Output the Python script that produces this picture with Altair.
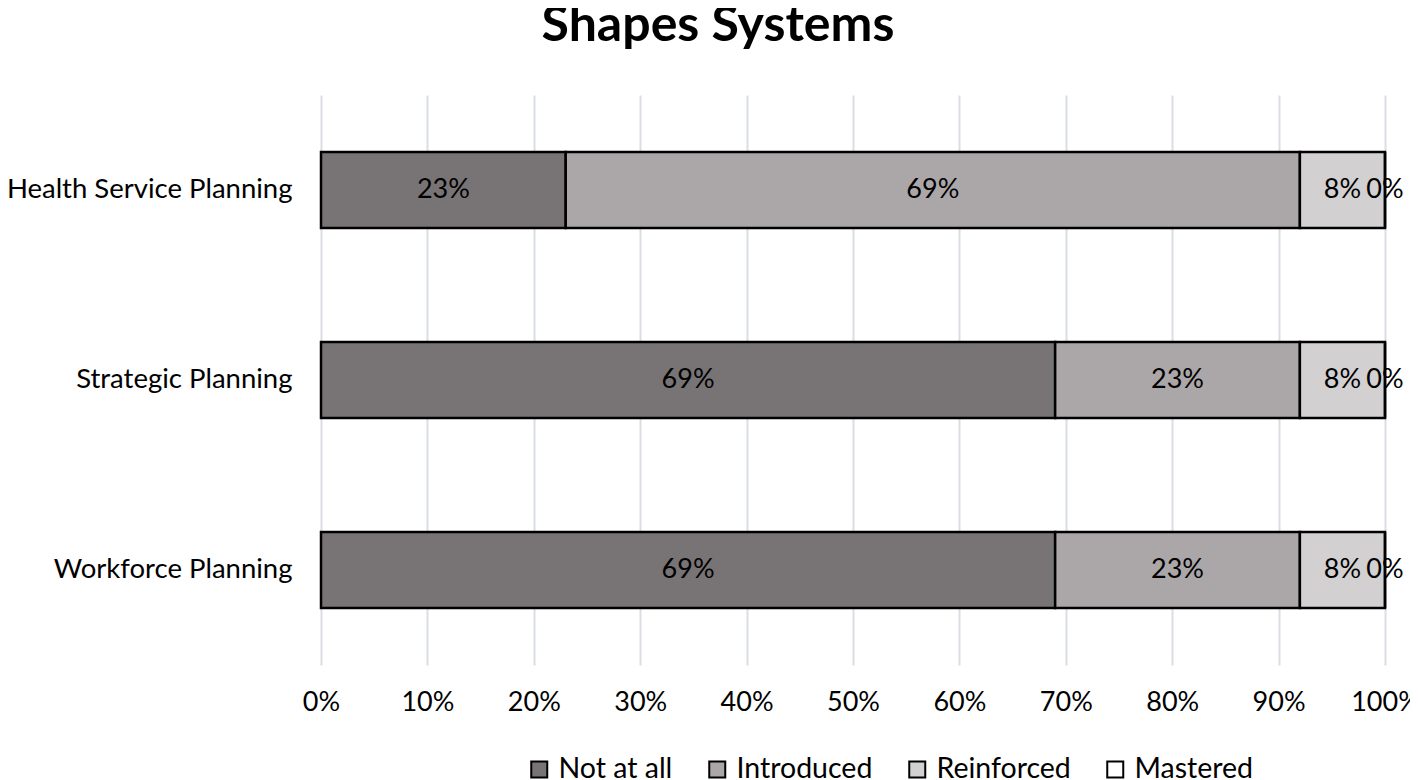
import altair as alt
import pandas as pd

categories = ["Health Service Planning", "Strategic Planning", "Workforce Planning"]
levels = ["Not at all", "Introduced", "Reinforced", "Mastered"]
not_at_all = [23, 69, 69]
introduced = [69, 23, 23]
reinforced = [8, 8, 8]
mastered = [0, 0, 0]
colors = ["#787374", "#aba7a8", "#d3d0d1", "#ffffff"]

rows = []
series = [not_at_all, introduced, reinforced, mastered]
for li, (lvl, vals) in enumerate(zip(levels, series)):
    for c, v in zip(categories, vals):
        rows.append({"category": c, "level": lvl, "order": li, "value": v / 100.0,
                     "label": f"{v}%"})
df = pd.DataFrame(rows)

FONT = "Lato"

base = alt.Chart(df).transform_stack(
    stack="value", groupby=["category"], sort=[alt.SortField("order")], as_=["x0", "x1"]
).transform_calculate(mid="(datum.x0 + datum.x1) / 2")

y_enc = alt.Y("category:N", sort=categories, title=None,
              scale=alt.Scale(paddingInner=0.6, paddingOuter=0.3),
              axis=alt.Axis(ticks=False, domain=False, labelFontSize=27.5, labelFont=FONT,
                            labelColor="#000000", labelPadding=29, labelLimit=400, grid=False))

bars = base.mark_bar(stroke="#000000", strokeWidth=2.5).encode(
    x=alt.X("x0:Q", scale=alt.Scale(domain=[0, 1]), title=None,
            axis=alt.Axis(format="%", values=[i / 10 for i in range(11)], grid=True,
                          gridColor="#d9dee4", gridWidth=2, ticks=False, domain=False,
                          labelFontSize=27, labelFont=FONT, labelColor="#000000",
                          labelPadding=24, labelFlush=False)),
    x2="x1:Q",
    y=y_enc,
    color=alt.Color("level:N", sort=levels,
                    scale=alt.Scale(domain=levels, range=colors),
                    legend=alt.Legend(title=None, orient="none", direction="horizontal",
                                      legendX=204, legendY=660, columns=4,
                                      symbolType="square", symbolSize=256,
                                      symbolStrokeColor="#000000", symbolStrokeWidth=2,
                                      labelFontSize=28.5, labelFont=FONT, labelColor="#000000",
                                      columnPadding=30, labelOffset=5, labelLimit=300)),
)

texts = base.mark_text(fontSize=27, font=FONT, color="#000000", align="center",
                       baseline="middle").encode(
    x=alt.X("mid:Q"),
    y=alt.Y("category:N", sort=categories),
    text="label:N",
)

chart = alt.layer(bars, texts).properties(
    width=1064, height=570,
    title=alt.TitleParams("Shapes Systems", fontSize=50, font=FONT, fontWeight="bold",
                          color="#000000", anchor="middle", dx=-135, offset=4,
                          baseline="alphabetic"),
    autosize=alt.AutoSizeParams(type="none"),
    padding={"left": 313, "top": 87, "right": 25, "bottom": 120},
).configure_view(stroke=None)

chart.save("out.html", embed_options={"renderer": "svg", "actions": False})
